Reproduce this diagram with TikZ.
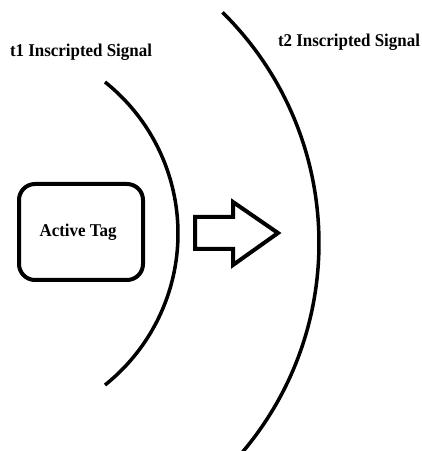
\documentclass[tikz,border=0pt]{standalone}
\usepackage{fontspec}
\setmainfont{Liberation Serif}
\begin{document}
\begin{tikzpicture}[x=1pt,y=1pt,
  lbl/.style={font=\fontsize{18}{21}\selectfont\bfseries, inner sep=0pt, xscale=0.94},
  tagbox/.style={draw, line width=4pt, rounded corners=16pt, minimum width=124pt, minimum height=96pt, inner sep=0pt},
  wave/.style={line width=3.5pt},
  blockarrow/.style={line width=4pt, line join=miter}]
\useasboundingbox (0,0) rectangle (422,451);
\clip (0,0) rectangle (422,451);
\node[tagbox] (tag) at (81,219) {};
\node[lbl] (tagtext) at (78,219) {Active Tag};
\node[lbl] (t1) at (81,399) {t1 Inscripted Signal};
\node[lbl] (t2) at (349,409) {t2 Inscripted Signal};
\draw[wave] (-15.7,217.5) ++(-51.45:193.7) arc[start angle=-51.45, end angle=51.45, radius=193.7];
\draw[wave] (-5,208) ++(-42:324) arc[start angle=-42, end angle=45.4, radius=324];
\draw[blockarrow] (195,234) -- (233,234) -- (233,249) -- (278,218) -- (233,186) -- (233,202) -- (195,202) -- cycle;
\end{tikzpicture}
\end{document}
